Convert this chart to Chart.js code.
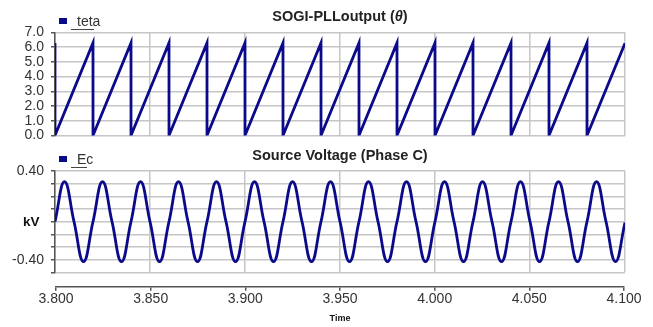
<!DOCTYPE html>
<html>
<head>
<meta charset="utf-8">
<script src="https://cdn.jsdelivr.net/npm/chart.js@4.4.1/dist/chart.umd.min.js"></script>
<style>
  body { margin: 0; background: #fff; }
  #wrap { position: relative; width: 653px; height: 327px; overflow: hidden; font-family: 'Liberation Sans', Arial, sans-serif; color: #222; }
  canvas { position: absolute; left: 0; }
  .lbl { position: absolute; white-space: nowrap; }
  .title { font-weight: bold; font-size: 14.5px; line-height: 16px; text-align: center; width: 680px; left: 0; }
  .legText { font-size: 14px; line-height: 15px; color: #333; }
  .legBox { position: absolute; width: 8px; height: 6px; background: #0a0a8a; }
  .legLine { position: absolute; height: 1px; background: #444; }
</style>
</head>
<body>
<div id="wrap">
  <canvas id="tetaChart" width="653" height="145" style="top:0"></canvas>
  <canvas id="ecChart" width="653" height="135" style="top:145px"></canvas>
  <canvas id="timeAxis" width="653" height="51" style="top:276px"></canvas>

  <div class="lbl title" style="top:8px">SOGI-PLLoutput (<i>θ</i>)</div>
  <div class="legBox" style="left:59px; top:18px"></div>
  <div class="lbl legText" style="left:77px; top:14px">teta</div>
  <div class="legLine" style="left:71px; top:29px; width:23px"></div>

  <div class="lbl title" style="top:147px">Source Voltage (Phase C)</div>
  <div class="legBox" style="left:59px; top:156px"></div>
  <div class="lbl legText" style="left:77px; top:152px">Ec</div>
  <div class="legLine" style="left:71px; top:167px; width:16px"></div>

  <div class="lbl" style="left:23px; top:214px; font-weight:bold; font-size:13.5px; line-height:16px; color:#111">kV</div>
</div>
<script>
// time axis ticks (s)
const timeTicks = [3.800, 3.850, 3.900, 3.950, 4.000, 4.050, 4.100];
const timeLabels = ['3.800', '3.850', '3.900', '3.950', '4.000', '4.050', '4.100'];

// SOGI-PLL output angle (rad), sawtooth read at the resets
const tetaTime = [3.800, 3.800, 3.820, 3.820, 3.840, 3.840, 3.860, 3.860, 3.880, 3.880,
                  3.900, 3.900, 3.920, 3.920, 3.940, 3.940, 3.960, 3.960, 3.980, 3.980,
                  4.000, 4.000, 4.020, 4.020, 4.040, 4.040, 4.060, 4.060, 4.080, 4.080, 4.100];
const tetaValue = [6.28, 0.00, 6.28, 0.00, 6.28, 0.00, 6.28, 0.00, 6.28, 0.00,
                   6.28, 0.00, 6.28, 0.00, 6.28, 0.00, 6.28, 0.00, 6.28, 0.00,
                   6.28, 0.00, 6.28, 0.00, 6.28, 0.00, 6.28, 0.00, 6.28, 0.00, 6.25];
const tetaTickValues = [0, 1, 2, 3, 4, 5, 6, 7];
const tetaTickLabels = ['0.0', '1.0', '2.0', '3.0', '4.0', '5.0', '6.0', '7.0'];

// source voltage phase C (kV), read at crossings / peaks / troughs
const ecTime = [3.800, 3.805, 3.810, 3.815, 3.820, 3.825, 3.830, 3.835, 3.840, 3.845,
                3.850, 3.855, 3.860, 3.865, 3.870, 3.875, 3.880, 3.885, 3.890, 3.895,
                3.900, 3.905, 3.910, 3.915, 3.920, 3.925, 3.930, 3.935, 3.940, 3.945,
                3.950, 3.955, 3.960, 3.965, 3.970, 3.975, 3.980, 3.985, 3.990, 3.995,
                4.000, 4.005, 4.010, 4.015, 4.020, 4.025, 4.030, 4.035, 4.040, 4.045,
                4.050, 4.055, 4.060, 4.065, 4.070, 4.075, 4.080, 4.085, 4.090, 4.095, 4.100];
const ecValue = [-0.057, 0.303, -0.057, -0.417, -0.057, 0.303, -0.057, -0.417, -0.057, 0.303,
                 -0.057, -0.417, -0.057, 0.303, -0.057, -0.417, -0.057, 0.303, -0.057, -0.417,
                 -0.057, 0.303, -0.057, -0.417, -0.057, 0.303, -0.057, -0.417, -0.057, 0.303,
                 -0.057, -0.417, -0.057, 0.303, -0.057, -0.417, -0.057, 0.303, -0.057, -0.417,
                 -0.057, 0.303, -0.057, -0.417, -0.057, 0.303, -0.057, -0.417, -0.057, 0.303,
                 -0.057, -0.417, -0.057, 0.303, -0.057, -0.417, -0.057, 0.303, -0.057, -0.417, -0.065];
const ecTickValues = [0.400, 0.286, 0.171, 0.057, -0.057, -0.171, -0.286, -0.400, -0.514];
const ecTickLabels = ['0.40', '', '', '', '', '', '', '-0.40', ''];

const lineColor = '#0a0a8a';
const gridColor = '#c6c6c6';
const axisColor = '#555';
const tickFont = { family: "'Liberation Sans', Arial, sans-serif", size: 14 };

function hiddenX() {
    return {
        type: 'linear',
        min: 3.8,
        max: 4.1,
        afterBuildTicks: scale => { scale.ticks = timeTicks.map(v => ({ value: v })); },
        afterFit: scale => {
            scale.height = 0;
            scale.paddingLeft = scale.paddingRight = scale.paddingTop = scale.paddingBottom = 0;
        },
        ticks: { display: false },
        grid: { color: gridColor, lineWidth: 1.5, drawTicks: false },
        border: { display: false }
    };
}

function yAxis(min, max, values, labels) {
    return {
        min: min,
        max: max,
        afterBuildTicks: scale => { scale.ticks = values.map(v => ({ value: v })); },
        afterFit: scale => {
            // keep the plot box where the padding puts it
            scale.width = 55;
            scale.paddingTop = 0;
            scale.paddingBottom = 0;
        },
        ticks: {
            font: tickFont,
            color: '#333',
            padding: 7,
            autoSkip: false,
            callback: (v, i) => labels[i]
        },
        grid: { color: gridColor, lineWidth: 1.5, tickLength: 4, tickColor: axisColor },
        border: { color: axisColor, width: 1.5 }
    };
}

function toPoints(xs, ys) {
    return xs.map((x, i) => ({ x: x, y: ys[i] }));
}

new Chart(document.getElementById('tetaChart'), {
    type: 'line',
    data: {
        datasets: [{
            label: 'teta',
            data: toPoints(tetaTime, tetaValue),
            borderColor: lineColor,
            borderWidth: 2.8,
            pointRadius: 0,
            tension: 0
        }]
    },
    options: {
        responsive: false,
        animation: false,
        layout: { padding: { top: 32.3, bottom: 9.5, left: 0, right: 28 } },
        plugins: { legend: { display: false }, tooltip: { enabled: false } },
        scales: {
            x: hiddenX(),
            y: yAxis(0, 7, tetaTickValues, tetaTickLabels)
        }
    }
});

new Chart(document.getElementById('ecChart'), {
    type: 'line',
    data: {
        datasets: [{
            label: 'Ec',
            data: toPoints(ecTime, ecValue),
            borderColor: lineColor,
            borderWidth: 2.8,
            pointRadius: 0,
            tension: 0.45
        }]
    },
    options: {
        responsive: false,
        animation: false,
        layout: { padding: { top: 26, bottom: 7.7, left: 0, right: 28 } },
        plugins: { legend: { display: false }, tooltip: { enabled: false } },
        scales: {
            x: hiddenX(),
            y: yAxis(-0.514, 0.400, ecTickValues, ecTickLabels)
        }
    }
});

// separate time axis below the voltage panel
new Chart(document.getElementById('timeAxis'), {
    type: 'line',
    data: { datasets: [] },
    options: {
        responsive: false,
        animation: false,
        layout: { padding: { top: 4, bottom: 0, left: 56, right: 29 } },
        plugins: { legend: { display: false }, tooltip: { enabled: false } },
        scales: {
            x: {
                type: 'linear',
                min: 3.8,
                max: 4.1,
                afterBuildTicks: scale => { scale.ticks = timeTicks.map(v => ({ value: v })); },
                afterFit: scale => { scale.height = 40.3; },
                ticks: {
                    font: tickFont,
                    color: '#333',
                    padding: 0,
                    maxRotation: 0,
                    autoSkip: false,
                    callback: (v, i) => timeLabels[i]
                },
                grid: { drawOnChartArea: false, tickLength: 4, tickColor: axisColor, lineWidth: 1.5 },
                border: { color: axisColor, width: 1.5 },
                title: {
                    display: true,
                    text: 'Time',
                    color: '#111',
                    font: { family: "'Liberation Sans', Arial, sans-serif", size: 9, weight: 'bold' },
                    padding: { top: 0, bottom: 2.6 }
                }
            },
            y: { display: false, min: 0, max: 1 }
        }
    }
});
</script>
</body>
</html>
